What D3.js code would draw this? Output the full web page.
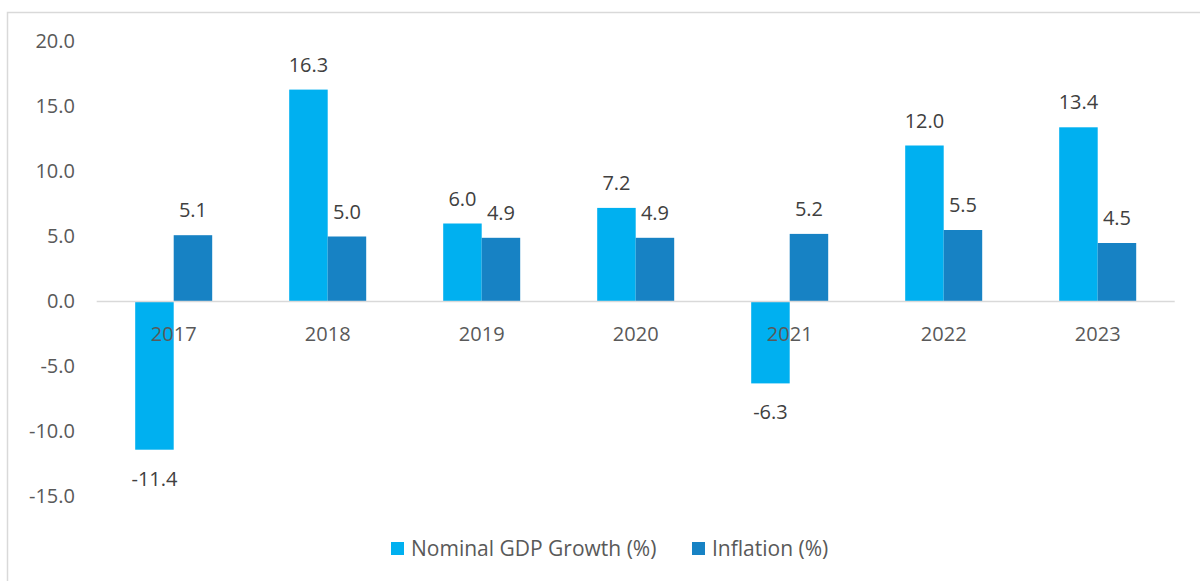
<!DOCTYPE html>
<html>
<head>
<meta charset="utf-8">
<title>Nominal GDP Growth and Inflation</title>
<script src="https://d3js.org/d3.v7.min.js"></script>
<style>
  body { margin: 0; background: #fff; }
  svg { display: block; font-family: "Open Sans", sans-serif; }
</style>
</head>
<body>
<svg id="chart" width="1200" height="581"></svg>
<script>
// data
const years = ["2017", "2018", "2019", "2020", "2021", "2022", "2023"];
const gdpGrowth = [-11.4, 16.3, 6.0, 7.2, -6.3, 12.0, 13.4];
const inflation = [5.1, 5.0, 4.9, 4.9, 5.2, 5.5, 4.5];
const seriesNames = ["Nominal GDP Growth (%)", "Inflation (%)"];
const yTicks = [20, 15, 10, 5, 0, -5, -10, -15];

const colors = ["#00B0F0", "#1782C4"];
const series = [gdpGrowth, inflation];

// plain hyphen for negatives, like the original
const fmt = d3.formatLocale({ decimal: ".", thousands: ",", grouping: [3], currency: ["", ""], minus: "-" }).format(".1f");

const svg = d3.select("#chart");

// chart frame
svg.append("path")
    .attr("d", "M7.5,581 L7.5,12.5 L1200,12.5")
    .attr("fill", "none")
    .attr("stroke", "#d9d9d9")
    .attr("stroke-width", 1.5);

const x = d3.scaleBand()
    .domain(years)
    .range([96.7, 1174.7]);

const y = d3.scaleLinear()
    .domain([-15, 20])
    .range([496.5, 41.5]);

// gap width 100%: two bars take half the category
const inner = d3.scaleBand()
    .domain([0, 1])
    .range([0, x.bandwidth()])
    .paddingInner(0)
    .paddingOuter(1);

// y axis labels (no line)
const yg = svg.append("g")
    .attr("transform", "translate(75,0)")
    .call(d3.axisLeft(y).tickValues(yTicks).tickFormat(fmt).tickSize(0).tickPadding(0));
yg.select(".domain").remove();
yg.selectAll("text")
    .attr("font-family", "Open Sans, sans-serif")
    .attr("font-size", 20)
    .attr("fill", "#595959");

// bars
const groups = svg.append("g").selectAll("g")
    .data(years)
    .join("g")
    .attr("transform", d => `translate(${x(d)},0)`);

series.forEach((vals, s) => {
    groups.append("rect")
        .attr("x", inner(s))
        .attr("width", inner.bandwidth())
        .attr("y", (d, i) => y(Math.max(0, vals[i])))
        .attr("height", (d, i) => Math.abs(y(vals[i]) - y(0)))
        .attr("fill", colors[s]);
});

// zero line
svg.append("line")
    .attr("x1", x.range()[0])
    .attr("x2", x.range()[1])
    .attr("y1", y(0))
    .attr("y2", y(0))
    .attr("stroke", "#d9d9d9")
    .attr("stroke-width", 1.5);

// category labels along the zero line
const xg = svg.append("g")
    .attr("transform", `translate(0,${y(0)})`)
    .call(d3.axisBottom(x).tickSize(0).tickPadding(0));
xg.select(".domain").remove();
xg.selectAll("text")
    .attr("font-family", "Open Sans, sans-serif")
    .attr("font-size", 20)
    .attr("fill", "#595959")
    .attr("dy", null)
    .attr("y", 39);

// data labels
series.forEach((vals, s) => {
    groups.append("text")
        .attr("x", inner(s) + inner.bandwidth() / 2)
        .attr("y", (d, i) => vals[i] >= 0 ? y(vals[i]) - 18 : y(vals[i]) + 36)
        .attr("text-anchor", "middle")
        .attr("font-size", 20)
        .attr("fill", "#404040")
        .text((d, i) => fmt(vals[i]));
});

// legend
const legendItems = [
    { name: seriesNames[0], color: colors[0], x: 391 },
    { name: seriesNames[1], color: colors[1], x: 692 }
];
const legend = svg.append("g").selectAll("g")
    .data(legendItems)
    .join("g")
    .attr("transform", d => `translate(${d.x},542)`);
legend.append("rect")
    .attr("width", 13)
    .attr("height", 13)
    .attr("fill", d => d.color);
legend.append("text")
    .attr("x", 20)
    .attr("y", 14)
    .attr("font-size", 21)
    .attr("fill", "#595959")
    .text(d => d.name);
</script>
</body>
</html>
